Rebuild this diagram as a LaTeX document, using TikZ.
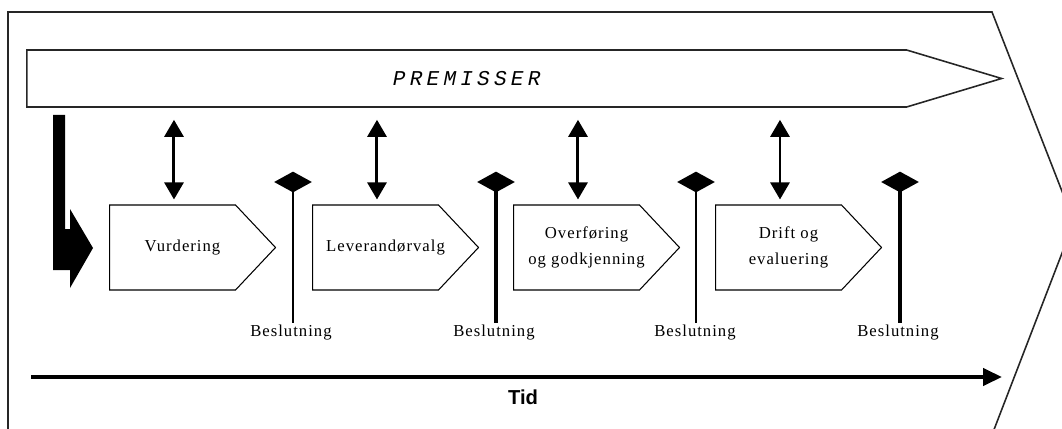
\documentclass[tikz,border=0pt]{standalone}
\usepackage{fontspec}
\setmainfont{Liberation Serif}
\newfontfamily\phasefont[LetterSpace=6]{Liberation Serif}
\newfontfamily\premfont[LetterSpace=20]{Liberation Mono}
\newfontfamily\tidfont{Liberation Sans}
\usetikzlibrary{shapes.symbols,shapes.geometric,arrows.meta}

\begin{document}
\begin{tikzpicture}[x=0.02cm, y=-0.02cm,
	frame/.style={draw=black!85, line width=0.9pt},
	premisse/.style={signal, signal to=east, signal pointer angle=33.4, draw=black!85, line width=0.9pt,
		minimum width=19.5cm, minimum height=1.14cm, inner sep=0pt, anchor=west},
	phase/.style={signal, signal to=east, signal pointer angle=93.5, draw, line width=0.6pt,
		minimum width=3.32cm, minimum height=1.7cm, inner sep=0pt, anchor=west},
	phasetext/.style={font=\phasefont\fontsize{9.5}{14.5}\selectfont, align=center, xshift=0.2cm},
	decision/.style={diamond, fill, inner sep=0pt, minimum width=0.76cm, minimum height=0.42cm},
	beslutning/.style={font=\phasefont\fontsize{9.5}{11}\selectfont, inner sep=1pt},
	link/.style={{Triangle[length=9.7pt,width=10.8pt]}-{Triangle[length=9.7pt,width=10.8pt]},
		line width=1.7pt, shorten <=0.24cm, shorten >=0.1cm},
	decline/.style={line width=#1},
	timeline/.style={-{Triangle[length=10.8pt,width=9.7pt]}, line width=2.2pt}]
	\useasboundingbox (0,0) rectangle (1062,429);
	\clip (0,0) rectangle (1062,429);

	% outer frame and start arrow
	\draw[frame] (8,440) -- (8,12) -- (992,12) -- (1074,222) -- (990,440);
	\fill (53,115) -- (65,115) -- (65,229) -- (70,229) -- (70,209) -- (93,248)
		-- (70,288) -- (70,270) -- (53,270) -- cycle;

	% premisser
	\node[premisse, label={[font=\premfont\itshape\fontsize{12}{14}\selectfont]center:PREMISSER}] (prem) at (26,78.5) {};

	% phases
	\node[phase, label={[phasetext]center:Vurdering}] (vurd) at (109,247.5) {};
	\node[phase, label={[phasetext]center:Leverandørvalg}] (lev) at (312,247.5) {};
	\node[phase, label={[phasetext]center:Overføring\\og godkjenning}] (over) at (513,247.5) {};
	\node[phase, label={[phasetext]center:Drift og\\evaluering}] (drift) at (715,247.5) {};

	\coordinate (a1) at ([xshift=1.3cm]vurd.west);
	\coordinate (a2) at ([xshift=1.3cm]lev.west);
	\coordinate (a3) at ([xshift=1.3cm]over.west);
	\coordinate (a4) at ([xshift=1.3cm]drift.west);
	\draw[link] (a1 |- prem.south) -- (a1 |- vurd.north);
	\draw[link] (a2 |- prem.south) -- (a2 |- lev.north);
	\draw[link] (a3 |- prem.south) -- (a3 |- over.north);
	\draw[link] (a4 |- prem.south) -- (a4 |- drift.north);

	% decisions
	\node[decision] (d1) at (293,182) {};
	\node[decision] (d2) at (496,182) {};
	\node[decision] (d3) at (696,182) {};
	\node[decision] (d4) at (900,182) {};
	\node[beslutning] (b1) at (291,333) {Beslutning};
	\node[beslutning] (b2) at (494,333) {Beslutning};
	\node[beslutning] (b3) at (695,333) {Beslutning};
	\node[beslutning] (b4) at (898,333) {Beslutning};
	\draw[decline=1pt] (d1.center) -- (d1 |- b1.north);
	\draw[decline=1.9pt] (d2.center) -- (d2 |- b2.north);
	\draw[decline=1.3pt] (d3.center) -- (d3 |- b3.north);
	\draw[decline=1.9pt] (d4.center) -- (d4 |- b4.north);

	% time
	\coordinate (t0) at (31,377);
	\coordinate (t1) at (1002,377);
	\draw[timeline] (t0) -- (t1);
	\node[font=\tidfont\bfseries\fontsize{11.5}{13}\selectfont] (tid) at (523,397) {Tid};
\end{tikzpicture}
\end{document}
